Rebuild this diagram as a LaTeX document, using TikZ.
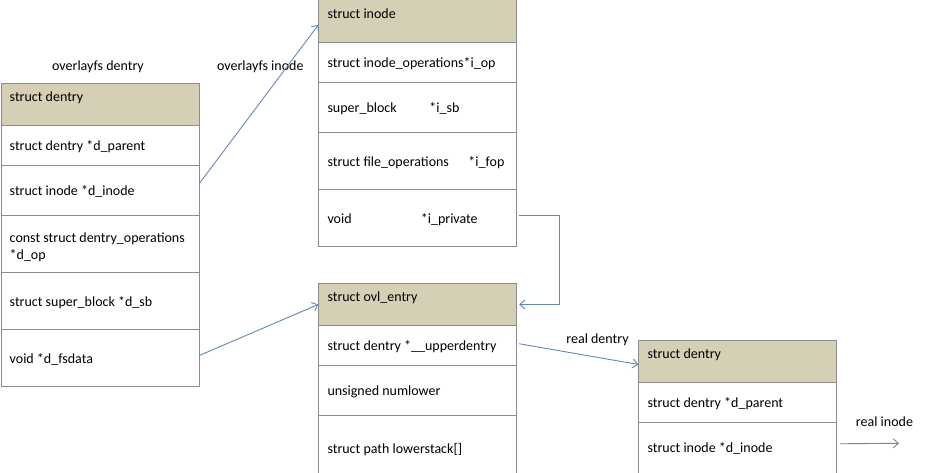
\documentclass[tikz,border=0pt]{standalone}
\usepackage{fontspec}
\newfontfamily\tfont{Carlito}
\usetikzlibrary{arrows.meta}
\definecolor{headc}{HTML}{D5CFB6}
\definecolor{bordc}{HTML}{8C8C8C}
\definecolor{arrc}{HTML}{6189B4}
\tikzset{
  box/.style={draw=bordc, line width=0.9pt, fill=white, minimum width=198pt, anchor=north west, inner sep=0pt},
  hbox/.style={box, fill=headc, minimum height=42pt},
  txt/.style={anchor=west, inner sep=0pt, font=\tfont\fontsize{14}{17}\selectfont, text height=9.5pt, text depth=3pt, yshift=-1.8pt},
  lbl/.style={inner sep=0pt, font=\tfont\fontsize{14}{16}\selectfont},
  conn/.style={draw=arrc, line width=0.9pt, -{Straight Barb[length=5pt,width=9pt,line width=0.9pt]}},
}
\begin{document}
\begin{tikzpicture}[x=1pt,y=-1pt]
\useasboundingbox (0,0) rectangle (946,472);
\clip (0,0) rectangle (946,472);
\fill[white] (0,0) rectangle (946,472);

% ---------- overlayfs dentry (left) ----------
\node[hbox] (ldh) at (0.5,83) {};
\node[box, minimum height=40pt] (ld1) at (0.5,125) {};
\node[box, minimum height=50pt] (ld2) at (0.5,165) {};
\node[box, minimum height=57pt] (ld3) at (0.5,215) {};
\node[box, minimum height=57pt] (ld4) at (0.5,272) {};
\node[box, minimum height=57pt] (ld5) at (0.5,329) {};
\node[txt] (ldht) at ([xshift=9pt,yshift=-13.5pt]ldh.north west) {struct dentry};
\node[txt] (ld1t) at ([xshift=9pt]ld1.west) {struct dentry *d\_parent};
\node[txt] (ld2t) at ([xshift=9pt]ld2.west) {struct inode *d\_inode};
\node[txt] (ld3ta) at ([xshift=9pt,yshift=6.8pt]ld3.west) {const struct dentry\_operations};
\node[txt] (ld3tb) at ([xshift=9pt,yshift=-10.5pt]ld3.west) {*d\_op};
\node[txt] (ld4t) at ([xshift=9pt]ld4.west) {struct super\_block *d\_sb};
\node[txt] (ld5t) at ([xshift=9pt]ld5.west) {void *d\_fsdata};

% ---------- overlayfs inode (top) ----------
\node[hbox, minimum height=43pt] (ih) at (318.3,-1) {};
\node[box, minimum height=40pt] (i1) at (318.3,42) {};
\node[box, minimum height=50pt] (i2) at (318.3,82) {};
\node[box, minimum height=57pt] (i3) at (318.3,132) {};
\node[box, minimum height=57pt] (i4) at (318.3,189) {};
\node[txt] (iht) at ([xshift=9pt,yshift=-14.3pt]ih.north west) {struct inode};
\node[txt] (i1t) at ([xshift=9pt]i1.west) {struct inode\_operations*i\_op};
\node[txt] (i2t) at ([xshift=9pt]i2.west) {\makebox[102pt][l]{super\_block}*i\_sb};
\node[txt] (i3t) at ([xshift=9pt]i3.west) {\makebox[141pt][l]{struct file\_operations}*i\_fop};
\node[txt] (i4t) at ([xshift=9pt]i4.west) {\makebox[93.4pt][l]{void}*i\_private};

% ---------- ovl_entry (middle bottom) ----------
\node[hbox] (oh) at (318.3,283) {};
\node[box, minimum height=40pt] (o1) at (318.3,325) {};
\node[box, minimum height=50pt] (o2) at (318.3,365) {};
\node[box, minimum height=63pt] (o3) at (318.3,415) {};
\node[txt] (oht) at ([xshift=9pt,yshift=-13.5pt]oh.north west) {struct ovl\_entry};
\node[txt] (o1t) at ([xshift=9pt]o1.west) {struct dentry *\_\_upperdentry};
\node[txt] (o2t) at ([xshift=9pt]o2.west) {unsigned numlower};
\node[txt] (o3t) at ([xshift=9pt,yshift=-1pt]o3.west) {struct path lowerstack[]};

% ---------- real dentry (right) ----------
\node[hbox] (rh) at (638.3,340) {};
\node[box, minimum height=40pt] (r1) at (638.3,382) {};
\node[box, minimum height=52pt] (r2) at (638.3,422) {};
\node[txt] (rht) at ([xshift=9pt,yshift=-13.5pt]rh.north west) {struct dentry};
\node[txt] (r1t) at ([xshift=9pt]r1.west) {struct dentry *d\_parent};
\node[txt] (r2t) at ([xshift=9pt,yshift=1.3pt]r2.west) {struct inode *d\_inode};

% ---------- labels ----------
\node[lbl] (lab1) at (98,67) {overlayfs dentry};
\node[lbl] (lab2) at (260.3,67) {overlayfs inode};
\node[lbl] (lab3) at (597.5,340) {real dentry};
\node[lbl] (lab4) at (884.5,421.7) {real inode};

% ---------- connectors ----------
\coordinate (rinode) at (899,443.3);
\draw[conn] ([yshift=7pt]ld2.east) -- ([yshift=-4pt]ih.west);
\draw[conn] ([yshift=2.5pt]ld5.east) -- (oh.west);
\draw[conn] ([xshift=2pt,yshift=2.5pt]i4.east) -- ++(40,0) |- ([xshift=2pt]oh.east);
\draw[conn] ([xshift=2pt,yshift=1.7pt]o1.east) -- ([yshift=-3pt]rh.west);
\draw[conn] ([xshift=3pt,yshift=4.7pt]r2.east) -- (rinode);
\end{tikzpicture}
\end{document}
